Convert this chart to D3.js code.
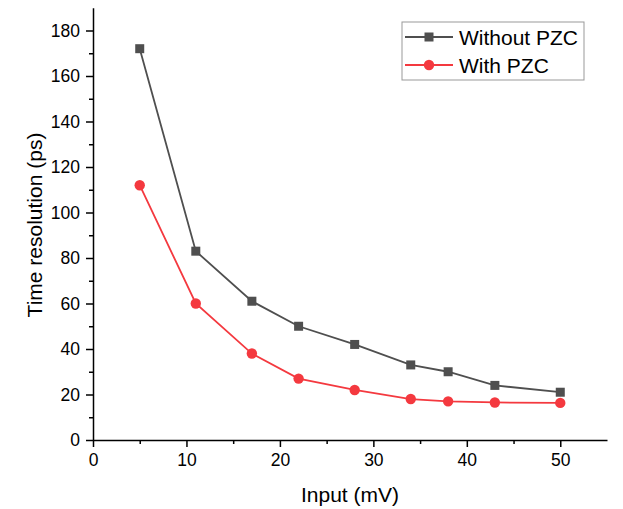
<!DOCTYPE html>
<html lang="en">
<head>
    <meta charset="UTF-8">
    <title>Time resolution vs input</title>
    <script src="https://d3js.org/d3.v7.min.js"></script>
    <style>
        body { margin: 0; background: #fff; }
        svg { font-family: Arial, "Liberation Sans", sans-serif; }
        .axis path, .axis line { stroke: #000; stroke-width: 1.5px; }
        .axis text { font-size: 17.5px; fill: #000; font-family: Arial, "Liberation Sans", sans-serif; }
    </style>
</head>
<body>
    <svg width="623" height="509"></svg>
    <script>
const inputs = [5, 11, 17, 22, 28, 34, 38, 43, 50];
const withoutPZC = [172, 83, 61, 50, 42, 33, 30, 24, 21];
const withPZC = [112, 60, 38, 27, 22, 18, 17, 16.5, 16.3];
const xTicks = [0, 10, 20, 30, 40, 50];
const yTicks = [0, 20, 40, 60, 80, 100, 120, 140, 160, 180];

const svg = d3.select("svg");

const x = d3.scaleLinear().domain([0, 55]).range([93, 607]);
const y = d3.scaleLinear().domain([0, 190]).range([440, 7.75]);

// minor ticks first, then the major axis on top
svg.append("g")
   .attr("class", "axis")
   .attr("transform", "translate(0,440)")
   .call(d3.axisBottom(x).tickValues(d3.range(5, 55, 10)).tickSize(4).tickFormat(""))
   .select(".domain").remove();
svg.append("g")
   .attr("class", "axis")
   .attr("transform", "translate(0,440)")
   .call(d3.axisBottom(x).tickValues(xTicks).tickSize(7).tickSizeOuter(0).tickPadding(7));

svg.append("g")
   .attr("class", "axis")
   .attr("transform", "translate(93,0)")
   .call(d3.axisLeft(y).tickValues(d3.range(10, 190, 20)).tickSize(4).tickFormat(""))
   .select(".domain").remove();
svg.append("g")
   .attr("class", "axis")
   .attr("transform", "translate(93,0)")
   .call(d3.axisLeft(y).tickValues(yTicks).tickSize(7).tickSizeOuter(0).tickPadding(6));

svg.append("text")
   .attr("x", 350).attr("y", 502)
   .attr("text-anchor", "middle")
   .attr("font-size", 21)
   .text("Input (mV)");

svg.append("text")
   .attr("transform", "translate(42,225) rotate(-90)")
   .attr("text-anchor", "middle")
   .attr("font-size", 21)
   .text("Time resolution (ps)");

const series = [
    { name: "Without PZC", values: withoutPZC, color: "#4f4f4f", shape: "square" },
    { name: "With PZC", values: withPZC, color: "#f4393f", shape: "circle" }
];

const line = d3.line()
    .x(d => x(d[0]))
    .y(d => y(d[1]));

function marker(g, shape, color, cx, cy) {
    if (shape === "square") {
        g.append("rect")
         .attr("x", cx - 4.5).attr("y", cy - 4.5)
         .attr("width", 9).attr("height", 9)
         .attr("fill", color);
    } else {
        g.append("circle")
         .attr("cx", cx).attr("cy", cy).attr("r", 5.2)
         .attr("fill", color);
    }
}

series.forEach(s => {
    const pts = inputs.map((v, i) => [v, s.values[i]]);
    svg.append("path")
       .datum(pts)
       .attr("d", line)
       .attr("fill", "none")
       .attr("stroke", s.color)
       .attr("stroke-width", 1.8);
    const g = svg.append("g");
    pts.forEach(p => marker(g, s.shape, s.color, x(p[0]), y(p[1])));
});

// legend
const legend = svg.append("g");
legend.append("rect")
      .attr("x", 402).attr("y", 22)
      .attr("width", 182).attr("height", 58)
      .attr("fill", "#fff")
      .attr("stroke", "#999");
series.forEach((s, i) => {
    const ly = 37 + i * 28;
    legend.append("line")
          .attr("x1", 405).attr("x2", 453)
          .attr("y1", ly).attr("y2", ly)
          .attr("stroke", s.color).attr("stroke-width", 1.8);
    marker(legend, s.shape, s.color, 429, ly);
    legend.append("text")
          .attr("x", 459).attr("y", ly + 7.5)
          .attr("font-size", 21)
          .text(s.name);
});
    </script>
</body>
</html>
